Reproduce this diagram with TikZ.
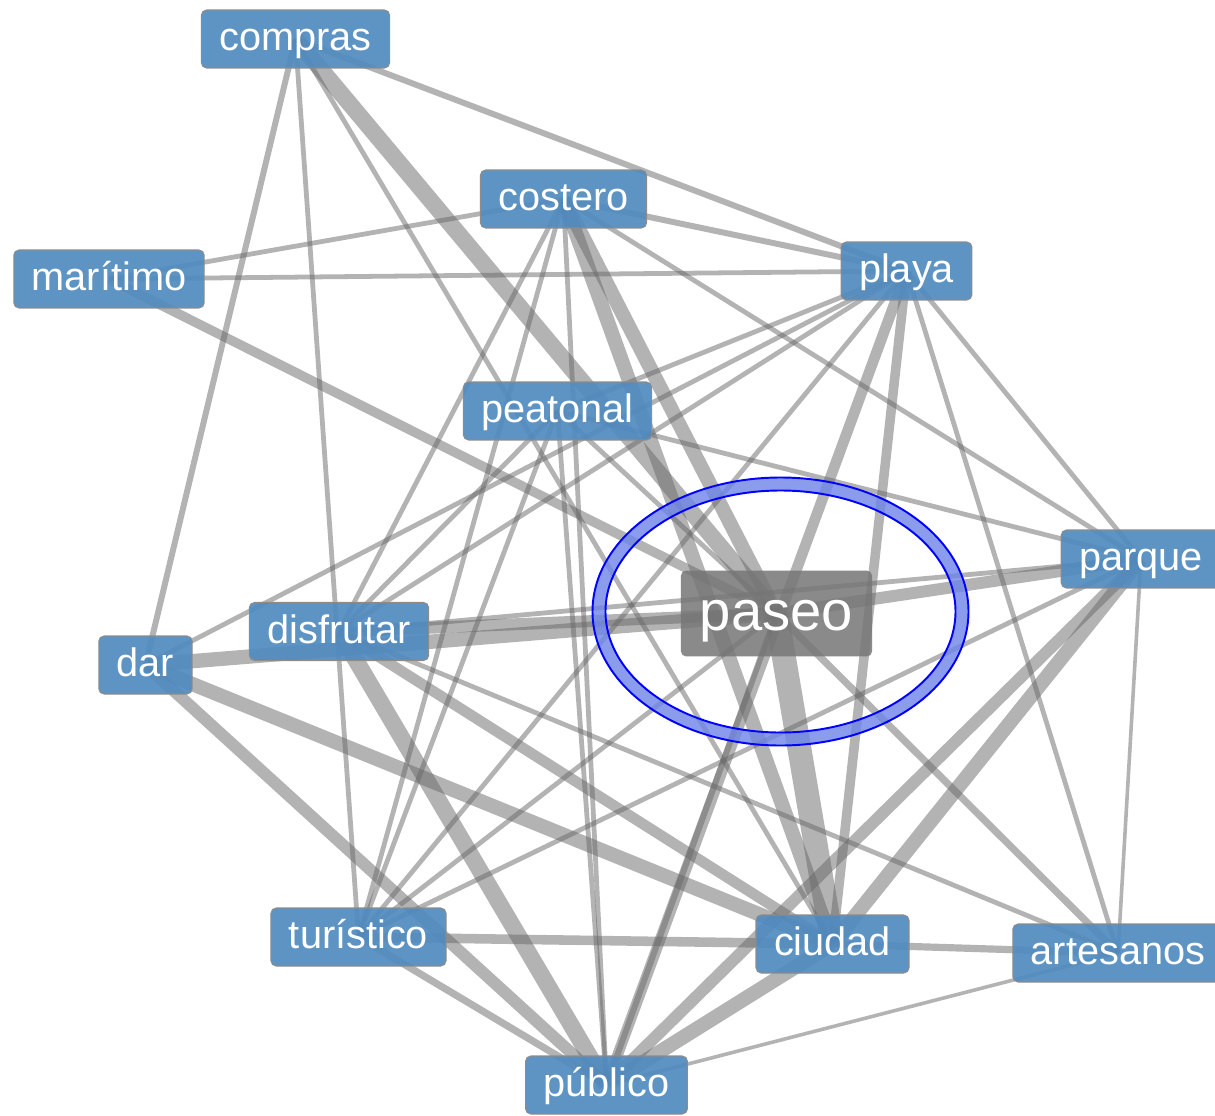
\documentclass[tikz,border=0pt]{standalone}
\usepackage{fontspec}
\setmainfont{Liberation Sans}
\usetikzlibrary{backgrounds}
\definecolor{boxblue}{RGB}{80,139,192}
\definecolor{hubgray}{RGB}{118,118,118}
\definecolor{ringfill}{RGB}{110,132,232}
\definecolor{edgegray}{RGB}{104,104,104}
\begin{document}
\begin{tikzpicture}[x=0.02cm,y=-0.02cm,
  wordbox/.style={draw=black!45, line width=0.6pt, fill=boxblue, fill opacity=0.92, text opacity=1,
    text=white, rounded corners=3pt, minimum height=1.16cm, inner xsep=0.36cm, inner ysep=0pt,
    text height=13.6pt, text depth=0pt, font=\fontsize{22.6}{24}\selectfont},
  hubbox/.style={wordbox, fill=hubgray, fill opacity=0.85, draw=none, minimum height=1.72cm,
    inner xsep=0.38cm, text height=19.2pt, font=\fontsize{32}{34}\selectfont},
  link/.style={line width=#1*0.68pt, draw=edgegray, draw opacity=0.5}
]
\useasboundingbox (0,0) rectangle (1215,1116);
% nodes
\node[wordbox] (C) at (295.5,39) {compras};
\node[wordbox] (K) at (563.5,199) {costero};
\node[wordbox] (M) at (109,279) {marítimo};
\node[wordbox] (Y) at (906.5,271) {playa};
\node[wordbox] (T) at (557.5,411) {peatonal};
\node[wordbox] (Q) at (1141,559) {parque};
\node[hubbox]  (P) at (776.5,613.5) {paseo};
\node[wordbox] (D) at (339,631.5) {disfrutar};
\node[wordbox] (R) at (145.5,665) {dar};
\node[wordbox] (U) at (358.5,937) {turístico};
\node[wordbox] (I) at (832.5,944) {ciudad};
\node[wordbox] (A) at (1118,953) {artesanos};
\node[wordbox] (B) at (606.5,1085) {público};
% edges
\begin{pgfonlayer}{background}
\fill[white] (0,0) rectangle (1215,1116);
\foreach \a/\b/\w in {C/R/5, C/U/4, C/P/14, C/I/4, C/Y/5,
  M/K/4, M/Y/4, M/P/8,
  K/Y/5, K/Q/4, K/P/12, K/D/4, K/U/4, K/B/4, K/I/12,
  T/B/4, T/Q/4, T/Y/4, T/D/4, T/U/4, T/P/4,
  Y/R/4, Y/D/4, Y/U/4, Y/B/9, Y/I/8, Y/A/4, Y/Q/4,
  R/P/12, D/P/10, P/Q/10, D/Q/4, R/I/12, R/B/10, D/B/14, D/I/9, D/A/4,
  P/U/4, Q/U/4, U/I/8, U/B/6, P/B/5, P/I/20, P/A/6,
  Q/I/12, Q/B/10, Q/A/3, I/A/6, A/B/3, I/B/12}
  \draw[link=\w] (\a.center) -- (\b.center);
\end{pgfonlayer}
% highlight ring
\draw[ringfill, opacity=0.8, line width=7.4pt] (780.5,611.5) ellipse [x radius=181.5, y radius=127.5];
\draw[blue, line width=1.1pt] (780.5,611.5) ellipse [x radius=188, y radius=134];
\draw[blue, line width=1.1pt] (780.5,611.5) ellipse [x radius=175, y radius=121];
\end{tikzpicture}
\end{document}
